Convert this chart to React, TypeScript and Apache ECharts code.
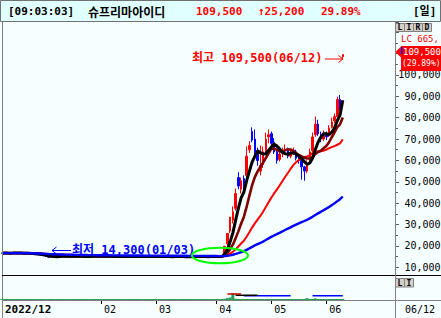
import React, { useEffect, useRef } from "react";
import * as echarts from "echarts";

const W = 441;
const H = 318;
const MONO = "'DejaVu Sans Mono', 'Noto Sans CJK KR', monospace";
const KR = "'Noto Sans CJK KR', sans-serif";

// ---- trading days per month ----
const decDays = [8, 9, 12, 13, 14, 15, 16, 19, 20, 21, 22, 23, 26, 27, 28, 29];
const janDays = [2, 3, 4, 5, 6, 9, 10, 11, 12, 13, 16, 17, 18, 19, 20, 25, 26, 27, 30, 31];
const febDays = [1, 2, 3, 6, 7, 8, 9, 10, 13, 14, 15, 16, 17, 20, 21, 22, 23, 24, 27, 28];
const marDays = [2, 3, 6, 7, 8, 9, 10, 13, 14, 15, 16, 17, 20, 21, 22, 23, 24, 27, 28, 29, 30, 31];
const aprDays = [3, 4, 5, 6, 7, 10, 11, 12, 13, 14, 17, 18, 19, 20, 21, 24, 25, 26, 27, 28];
const mayDays = [2, 3, 4, 8, 9, 10, 11, 12, 15, 16, 17, 18, 19, 22, 23, 24, 25, 26, 30, 31];
const junDays = [1, 2, 5, 7, 8, 9, 12];

// ---- candles [open, close, low, high] ----
const candlesDec = [
  [16600, 16600, 16500, 16700], [16700, 16700, 16600, 16800], [16700, 16600, 16500, 16700],
  [16600, 16600, 16500, 16700], [16600, 16700, 16600, 16800], [16700, 16700, 16600, 16800],
  [16700, 16600, 16500, 16700], [16600, 16600, 16400, 16700], [16600, 16500, 16400, 16600],
  [16500, 16500, 16400, 16600], [16500, 16400, 16300, 16500], [16400, 16300, 16200, 16400],
  [16300, 16100, 16000, 16300], [16100, 15900, 15800, 16100], [15900, 15700, 15600, 15900],
  [15700, 15500, 15400, 15700],
];
const candlesJan = [
  [15400, 15000, 14900, 15400], [15000, 14700, 14300, 15000], [14700, 15000, 14600, 15100],
  [15000, 15100, 14900, 15200], [15100, 15100, 15000, 15200], [15100, 15200, 15000, 15300],
  [15200, 15200, 15100, 15300], [15200, 15100, 15000, 15200], [15100, 15100, 15000, 15200],
  [15100, 15200, 15000, 15300], [15200, 15200, 15100, 15300], [15200, 15100, 15000, 15200],
  [15100, 15100, 15000, 15200], [15100, 15000, 14900, 15100], [15000, 15100, 14900, 15200],
  [15100, 15100, 15000, 15200], [15100, 15200, 15000, 15300], [15200, 15200, 15100, 15300],
  [15200, 15100, 15000, 15200], [15100, 15100, 15000, 15200],
];
const candlesFeb = [
  [15100, 15200, 15000, 15300], [15200, 15200, 15100, 15300], [15200, 15100, 15000, 15200],
  [15100, 15100, 15000, 15200], [15100, 15000, 14900, 15100], [15000, 15000, 14900, 15100],
  [15000, 15100, 14900, 15200], [15100, 15100, 15000, 15200], [15100, 15200, 15000, 15300],
  [15200, 15100, 15000, 15200], [15100, 15100, 15000, 15200], [15100, 15000, 14900, 15100],
  [15000, 15000, 14900, 15100], [15000, 15100, 15000, 15200], [15100, 15100, 15000, 15200],
  [15100, 15000, 14900, 15100], [15000, 15000, 14900, 15100], [15000, 15100, 14900, 15100],
  [15100, 15100, 15000, 15200], [15100, 15000, 14900, 15100],
];
const candlesMar = [
  [15000, 15000, 14900, 15100], [15000, 15100, 14900, 15100], [15100, 15000, 14900, 15100],
  [15000, 15000, 14900, 15100], [15000, 14900, 14800, 15000], [14900, 15000, 14800, 15100],
  [15000, 15000, 14900, 15100], [15000, 15100, 14900, 15200], [15100, 15000, 14900, 15100],
  [15000, 15000, 14900, 15100], [15000, 14900, 14800, 15000], [14900, 14900, 14800, 15000],
  [14900, 15000, 14800, 15100], [15000, 15000, 14900, 15100], [15000, 15100, 14900, 15100],
  [15100, 15000, 14900, 15100], [15000, 15000, 14900, 15100], [15000, 14900, 14800, 15000],
  [14900, 15000, 14800, 15100], [15000, 15000, 14900, 15100], [15000, 15100, 15000, 15200],
  [15100, 15100, 15000, 15200],
];
const candlesApr = [
  [15000, 15000, 14900, 15100], [15000, 15100, 14900, 15200], [15100, 15300, 15000, 15500],
  [15400, 19850, 15300, 19850], [21000, 25800, 20500, 25800], [27000, 33500, 26000, 33500],
  [32000, 36000, 30500, 38500], [37500, 44500, 36500, 46800], [52000, 48000, 46500, 54500],
  [46500, 50500, 44500, 52000], [51500, 47000, 45500, 53000], [53000, 62000, 52000, 66500],
  [65000, 67000, 63500, 69000], [73500, 69500, 68500, 75500], [70000, 64000, 62500, 74500],
  [64500, 60000, 57500, 66000], [55000, 57500, 53000, 67000], [58000, 64000, 56500, 66500],
  [64500, 70000, 63500, 73000], [71000, 72000, 68000, 74500],
];
const candlesMay = [
  [72500, 68000, 66500, 73500], [68500, 64000, 63000, 70500], [64000, 60000, 58500, 65000],
  [60500, 63000, 59500, 66500], [63500, 64000, 61500, 66000], [64500, 65000, 63000, 67500],
  [65000, 62000, 61000, 66000], [62000, 63000, 61000, 64500], [63500, 64000, 62500, 66000],
  [64000, 61000, 60000, 65000], [61000, 60000, 58500, 62500], [60000, 57000, 51000, 60500],
  [57000, 55000, 50500, 57500], [55000, 58000, 54000, 60000], [58500, 64000, 58000, 65500],
  [64500, 71000, 63500, 73000], [72000, 77000, 71000, 80500], [77000, 72500, 71500, 79000],
  [72000, 70000, 68500, 73500], [70000, 72000, 69000, 74000],
];
const candlesJun = [
  [72000, 71000, 69500, 73500], [71500, 75000, 71000, 76500], [75500, 78000, 75000, 80000],
  [78500, 80500, 77500, 82000], [80500, 88500, 80000, 89800], [88500, 84300, 83500, 90600],
  [108500, 109500, 108000, 109500],
];

// ---- volume (relative units) ----
const volDec = [5, 1, 1, 1, 1, 1, 1, 1, 1, 1, 1, 1, 1, 1, 1, 1];
const volJan = [1, 2, 1, 1, 1, 1, 1, 1, 1, 1, 1, 1, 1, 1, 1, 1, 1, 1, 1, 1];
const volFeb = [1, 1, 1, 1, 1, 1, 1, 1, 1, 1, 1, 1, 1, 1, 1, 1, 1, 1, 1, 1];
const volMar = [1, 1, 1, 1, 1, 1, 1, 1, 1, 1, 1, 1, 1, 1, 1, 1, 1, 1, 1, 1, 1, 1];
const volApr = [1, 1, 1, 5, 8, 11, 29, 5, 3, 2, 2, 2, 1.5, 1.5, 1, 1, 1, 1, 1, 1];
const volMay = [1, 1, 1, 1, 1, 1, 1, 1, 1, 1, 1, 1, 1, 8, 1, 1, 7, 1, 1, 1];
const volJun = [1, 1, 1, 1, 1, 1, 1];

// volume average segments [startIndex, endIndex, value]
const volAvgRed = [[82, 87, 26]];
const volAvgBlack = [[85, 93, 21]];
const volAvgBlue = [[88, 105, 18], [113, 124, 18]];

const maPeriods = [5, 10, 25, 75];
const maColors = ["#000000", "#800000", "#ff0000", "#0000ff"];
const futureSlots = 19;

const months = [
  { ym: "2022/12", days: decDays, candles: candlesDec, vols: volDec, tick: "2022/12" },
  { ym: "2023/01", days: janDays, candles: candlesJan, vols: volJan, tick: "" },
  { ym: "2023/02", days: febDays, candles: candlesFeb, vols: volFeb, tick: "02" },
  { ym: "2023/03", days: marDays, candles: candlesMar, vols: volMar, tick: "03" },
  { ym: "2023/04", days: aprDays, candles: candlesApr, vols: volApr, tick: "04" },
  { ym: "2023/05", days: mayDays, candles: candlesMay, vols: volMay, tick: "05" },
  { ym: "2023/06", days: junDays, candles: candlesJun, vols: volJun, tick: "06" },
];

const categories: string[] = [];
const candles: number[][] = [];
const volumes: number[] = [];
const tickLabels = new Map<number, string>();
months.forEach((m) => {
  if (m.tick) tickLabels.set(categories.length, m.tick);
  m.days.forEach((d) => categories.push(`${m.ym}/${String(d).padStart(2, "0")}`));
  candles.push(...m.candles);
  volumes.push(...m.vols);
});
for (let i = 0; i < futureSlots; i++) categories.push(`next-${i + 1}`);

const closes = candles.map((c) => c[1]);
function movingAverage(n: number) {
  return closes.map((_, i) => {
    const s = Math.max(0, i - n + 1);
    let sum = 0;
    for (let j = s; j <= i; j++) sum += closes[j];
    return Math.round(sum / (i - s + 1));
  });
}
function segments(segs: number[][]) {
  const arr: (number | null)[] = closes.map(() => null);
  segs.forEach(([a, b, v]) => {
    for (let i = a; i <= b; i++) arr[i] = v;
  });
  return arr;
}

export default function App() {
  const ref = useRef<HTMLDivElement>(null);
  useEffect(() => {
    const el = ref.current!;
    const chart = echarts.init(el, undefined, { renderer: "svg", width: W, height: H });

    const txt = (text: string, x: number, y: number, font: string, fill: string, align = "left") => ({
      type: "text", x, y,
      style: { text, font, fill, textAlign: align, textVerticalAlign: "middle" },
    });
    const ln = (x1: number, y1: number, x2: number, y2: number, stroke: string, lineWidth = 1) => ({
      type: "line", shape: { x1, y1, x2, y2 }, style: { stroke, lineWidth },
    });
    const rc = (x: number, y: number, width: number, height: number, fill: string, stroke?: string) => ({
      type: "rect", shape: { x, y, width, height },
      style: stroke ? { fill, stroke, lineWidth: 1 } : { fill },
    });

    const graphics: any[] = [
      // title bar
      rc(0.5, 0.5, 440, 21, "#e0ffff", "#707070"),
      txt("[09:03:03]", 8, 11, `bold 11px ${MONO}`, "#000000"),
      txt("슈프리마아이디", 88, 11, `bold 12px ${KR}`, "#000000"),
      txt("109,500", 196, 11, `bold 11px ${MONO}`, "#ff0000"),
      txt("↑25,200", 258, 11, `bold 11px ${MONO}`, "#ff0000"),
      txt("29.89%", 321, 11, `bold 11px ${MONO}`, "#ff0000"),
      txt("[일]", 413, 11, `bold 11px ${MONO}`, "#000000"),
      // frame
      ln(2.5, 22, 2.5, 318, "#808080"),
      ln(2, 275.5, 441, 275.5, "#000000"),
      rc(396, 276, 45, 24, "#f5ffff"),
      ln(2, 300.5, 441, 300.5, "#808080"),
      ln(395.5, 22, 395.5, 318, "#808080"),
      // LIRD buttons
      ...["L", "I", "R", "D"].flatMap((c, k) => [
        rc(395.5 + 9 * k, 23.5, 9, 8, "#d4d0c8", "#808080"),
        txt(c, 400 + 9 * k, 27.8, `bold 8px ${MONO}`, "#000000", "center"),
      ]),
      ...["L", "I"].flatMap((c, k) => [
        rc(395.5 + 9 * k, 278.5, 9, 8.5, "#d4d0c8", "#808080"),
        txt(c, 400 + 9 * k, 283, `bold 8px ${MONO}`, "#000000", "center"),
      ]),
      txt("LC 665,", 401, 39, `9px ${MONO}`, "#ff0000"),
      // current price tag
      { type: "polygon", shape: { points: [[395.5, 52], [401, 46.5], [401, 57.5]] }, style: { fill: "#ff0000" } },
      rc(401, 46, 40, 25, "#ff0000"),
      rc(401, 47, 1.5, 7, "#0000ff"),
      txt("109,500", 403, 51.5, `9px ${MONO}`, "#ffffff"),
      txt("(29.89%)", 402, 63.5, `8px ${MONO}`, "#ffffff"),
      txt("06/12", 405, 309, `10px ${MONO}`, "#000000"),
      // annotations
      txt("최고 109,500(06/12)", 192, 58, `bold 12px ${MONO}`, "#ff0000"),
      ln(325, 59, 343, 59, "#ff0000"),
      { type: "polyline", shape: { points: [[338.5, 55.5], [343, 59], [338.5, 62.5]] }, style: { stroke: "#ff0000", lineWidth: 1, fill: "none" } },
      txt("최저 14,300(01/03)", 72, 250, `bold 12px ${MONO}`, "#0000ff"),
      ln(52, 250.5, 71, 250.5, "#0000ff"),
      { type: "polyline", shape: { points: [[56.5, 247], [52, 250.5], [56.5, 254]] }, style: { stroke: "#0000ff", lineWidth: 1, fill: "none" } },
      { type: "ellipse", shape: { cx: 220, cy: 255.5, rx: 28, ry: 7.8 }, style: { fill: "none", stroke: "#00ff00", lineWidth: 2 } },
    ].map((g, i) => ({ ...g, z: 100 + i }));

    const maWidths = [3, 2.6, 2, 2.4];
    const maOrder = [2, 1, 0, 3];

    const option: any = {
      animation: false,
      backgroundColor: "#f5ffff",
      grid: [
        { left: 2, right: 46, top: 22, height: 266.675, outerBoundsMode: "none", containLabel: false },
        { left: 2, right: 46, top: 277, height: 23, outerBoundsMode: "none", containLabel: false },
      ],
      xAxis: [
        { type: "category", gridIndex: 0, data: categories, boundaryGap: false, show: false },
        {
          type: "category", gridIndex: 1, data: categories, boundaryGap: false,
          axisLine: { show: false },
          axisTick: { show: true, length: 4, interval: (i: number) => tickLabels.has(i), lineStyle: { color: "#000000" } },
          axisLabel: {
            show: true,
            interval: (i: number) => tickLabels.has(i),
            formatter: (_v: string, i: number) => {
              const t = tickLabels.get(i) || "";
              return i === 0 ? `{b|${t}}` : t;
            },
            align: "left", margin: 4, padding: [0, 0, 0, 3],
            fontFamily: MONO, fontSize: 10, color: "#000000",
            rich: { b: { fontFamily: MONO, fontSize: 11, fontWeight: "bold", color: "#000000" } },
          },
          splitLine: { show: false },
        },
      ],
      yAxis: [
        {
          type: "value", gridIndex: 0, position: "right", min: 0, max: 124760, interval: 10000,
          axisLine: { show: false },
          axisTick: { show: true, length: 4, lineStyle: { color: "#606060" } },
          minorTick: { show: true, splitNumber: 2, length: 3, lineStyle: { color: "#606060" } },
          axisLabel: {
            margin: 45.5, align: "right", fontFamily: MONO, fontSize: 10, color: "#000000",
            formatter: (v: number) => (v >= 10000 && v <= 100000 ? v.toLocaleString("en-US") : ""),
          },
          splitLine: { show: false },
        },
        { type: "value", gridIndex: 1, min: 0, max: 100, show: false },
      ],
      series: [
        {
          type: "candlestick", xAxisIndex: 0, yAxisIndex: 0, data: candles, barWidth: 2,
          itemStyle: {
            color: "#ff0000", color0: "#0000ff", borderColor: "#ff0000", borderColor0: "#0000ff",
            borderColorDoji: "#000000", borderWidth: 1,
          },
        },
        ...maOrder.map((k) => ({
          type: "line", xAxisIndex: 0, yAxisIndex: 0, data: movingAverage(maPeriods[k]),
          symbol: "none", silent: true,
          lineStyle: { color: maColors[k], width: maWidths[k] },
        })),
        {
          type: "bar", xAxisIndex: 1, yAxisIndex: 1, data: volumes, barWidth: 3, barMinHeight: 1,
          itemStyle: { color: "#22a050" }, silent: true,
        },
        ...[
          [volAvgBlue, "#0000ff"],
          [volAvgBlack, "#000000"],
          [volAvgRed, "#cc0000"],
        ].map(([segs, color]) => ({
          type: "line", xAxisIndex: 1, yAxisIndex: 1, data: segments(segs as number[][]),
          symbol: "none", silent: true, connectNulls: false,
          lineStyle: { color: color as string, width: 1.5 },
        })),
      ],
      graphic: graphics,
    };
    chart.setOption(option);
    return () => chart.dispose();
  }, []);
  return <div ref={ref} style={{ position: "fixed", left: 0, top: 0, width: W, height: H }} />;
}
